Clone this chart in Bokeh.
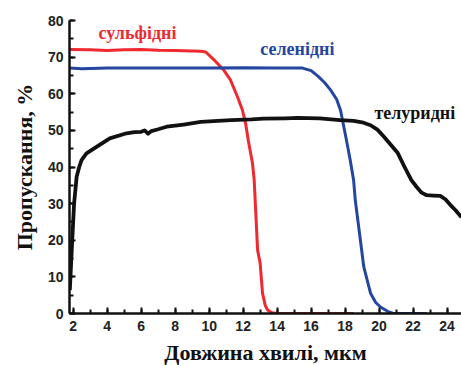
from bokeh.plotting import figure
from bokeh.models import SingleIntervalTicker, Range1d, Label
from bokeh.embed import file_html
from bokeh.resources import INLINE

# ---- data ----
sulf_x = [1.8, 3, 4, 5, 6, 7, 8, 9, 9.5, 9.8, 10.3, 10.85, 11.26, 11.67, 11.96, 12.14, 12.3,
          12.55, 12.65, 12.85, 13.0, 13.14, 13.3, 13.45, 13.7, 14, 16, 18.5]
sulf_y = [72.1, 72.0, 71.8, 72.0, 72.1, 71.9, 71.8, 71.7, 71.6, 71.4, 69.2, 66.5, 63.7, 59.1,
          55.5, 52.0, 47.3, 41.0, 36.4, 17.3, 13.7, 5.5, 2.2, 0.9, 0.2, 0, 0, 0]

sel_x = [1.8, 2.5, 4, 6, 8, 10, 12, 14, 15.5, 16.0, 16.4, 16.8, 17.15, 17.5, 17.73, 18.0, 18.3,
         18.5, 18.6, 18.9, 19.1, 19.5, 19.8, 20.1, 20.5, 20.8, 21.5, 22.8]
sel_y = [67.0, 66.8, 67.0, 67.0, 67.0, 67.0, 67.1, 67.0, 67.0, 66.3, 64.8, 63.0, 61.0, 58.5,
         55.5, 49.2, 41.9, 36.4, 30.9, 20.0, 12.7, 5.5, 3.0, 1.7, 0.6, 0.1, 0, 0]

tel_x = [1.8, 1.94, 2.05, 2.2, 2.35, 2.49, 2.78, 3.37, 4.15, 5.14, 5.6, 6.0, 6.2, 6.4,
         6.6, 7.0, 7.5, 8.5, 9.5, 10.5, 11.3, 12.5, 13.2, 14.5, 15.2, 16.5, 17.7, 18.5, 19.0,
         19.5, 19.9, 20.3, 20.7, 21.1, 21.5, 21.9, 22.2, 22.5, 22.8, 23.2, 23.6, 23.9, 24.2,
         24.5, 24.85]
tel_y = [6.4, 20.0, 30.0, 37.3, 40.0, 41.9, 43.7, 45.5, 47.8, 49.2, 49.5, 49.6, 50.0,
         49.1, 49.8, 50.3, 51.0, 51.6, 52.3, 52.6, 52.8, 53.0, 53.2, 53.3, 53.4, 53.3, 52.8,
         52.6, 52.2, 51.4, 50.2, 48.2, 46.0, 43.8, 40.0, 36.4, 34.6, 33.0, 32.3, 32.2, 32.1,
         31.2, 29.6, 28.2, 26.3]

series_names = ["сульфідні", "селенідні", "телуридні"]
series_colors = ["#ee2a30", "#2446a0", "#111111"]
label_pos_x = [5.78, 15.19, 22.1]
label_pos_y = [76.6, 72.2, 54.7]

x_label = "Довжина хвилі, мкм"
y_label = "Пропускання, %"

p = figure(frame_width=392, frame_height=293, output_backend="svg", toolbar_location=None,
           x_range=Range1d(1.78, 24.85), y_range=Range1d(0, 80),
           min_border_left=69, min_border_right=0, min_border_top=20, min_border_bottom=52)
p.outline_line_color = None
p.xgrid.visible = False
p.ygrid.visible = False
p.background_fill_color = "white"

p.line(sulf_x, sulf_y, line_color=series_colors[0], line_width=3)
p.line(sel_x, sel_y, line_color=series_colors[1], line_width=3)
p.line(tel_x, tel_y, line_color=series_colors[2], line_width=3.8, line_join="round")

for name, c, lx, ly in zip(series_names, series_colors, label_pos_x, label_pos_y):
    p.add_layout(Label(x=lx, y=ly, text=name, text_color=c, text_font="Liberation Serif",
                       text_font_style="bold", text_font_size="18px",
                       text_align="center", text_baseline="middle"))

for ax in (p.xaxis[0], p.yaxis[0]):
    ax.axis_line_width = 2.5
    ax.axis_line_color = "#111111"
    ax.major_tick_in = 6
    ax.major_tick_out = 0
    ax.minor_tick_in = 4
    ax.minor_tick_out = 0
    ax.major_tick_line_width = 2
    ax.minor_tick_line_width = 2
    ax.major_tick_line_color = "#111111"
    ax.minor_tick_line_color = "#111111"
    ax.major_label_text_font = "Liberation Sans"
    ax.major_label_text_font_style = "bold"
    ax.major_label_text_font_size = "14px"
    ax.major_label_text_color = "#222222"
    ax.axis_label_text_font = "Liberation Serif"
    ax.axis_label_text_font_style = "bold"
    ax.axis_label_text_font_size = "22px"
    ax.axis_label_text_color = "#111111"

p.xaxis[0].ticker = SingleIntervalTicker(interval=2, num_minor_ticks=2)
p.yaxis[0].ticker = SingleIntervalTicker(interval=10, num_minor_ticks=2)
p.xaxis[0].axis_label = x_label
p.yaxis[0].axis_label = y_label
p.xaxis[0].major_label_standoff = 7
p.yaxis[0].major_label_standoff = 6
p.xaxis[0].axis_label_standoff = 6
p.yaxis[0].axis_label_standoff = 8

open("out.html", "w").write(file_html(p, INLINE))
